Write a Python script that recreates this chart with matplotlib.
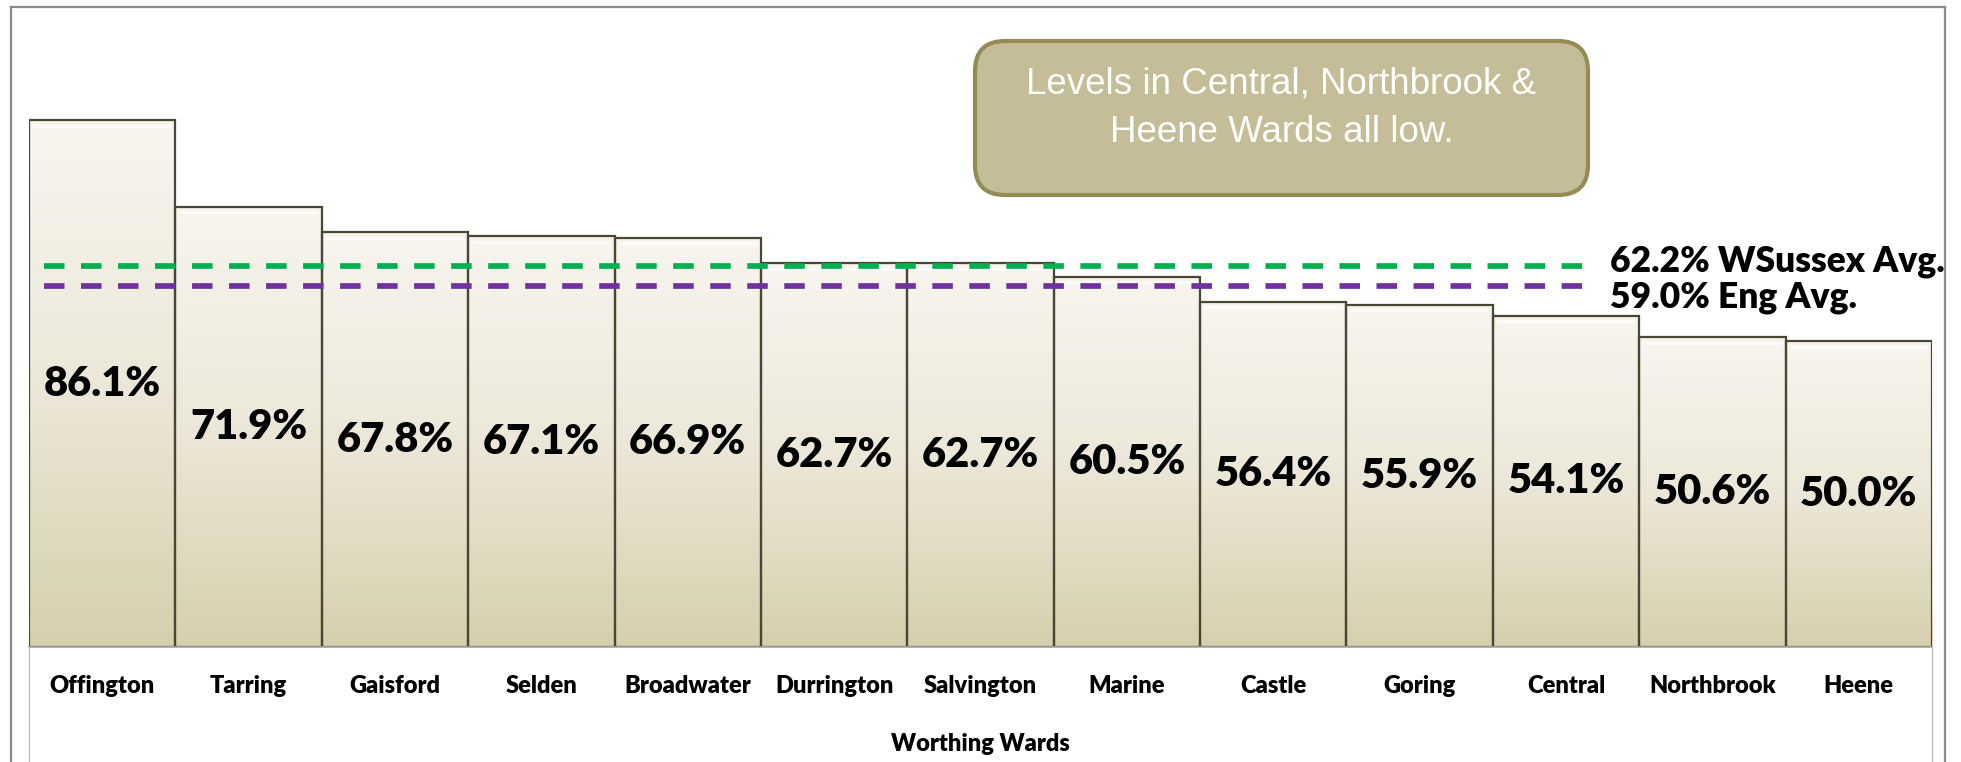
import numpy as np
import matplotlib
matplotlib.use("Agg")
import matplotlib.pyplot as plt
from matplotlib.colors import LinearSegmentedColormap
from matplotlib.patches import FancyBboxPatch
from matplotlib.lines import Line2D
from matplotlib.transforms import IdentityTransform

# Ward-level rates (%)
wards = ["Offington", "Tarring", "Gaisford", "Selden", "Broadwater", "Durrington",
         "Salvington", "Marine", "Castle", "Goring", "Central", "Northbrook", "Heene"]
rates = [86.1, 71.9, 67.8, 67.1, 66.9, 62.7, 62.7, 60.5, 56.4, 55.9, 54.1, 50.6, 50.0]

# Reference averages
wsussex_avg = 62.2
england_avg = 59.0
avg_labels = ["62.2% WSussex Avg.", "59.0% Eng Avg."]

note_text = "Levels in Central, Northbrook &\nHeene Wards all low."
x_title = "Worthing Wards"

W, H, DPI = 1961, 762, 100
fig = plt.figure(figsize=(W / DPI, H / DPI), dpi=DPI)
fig.patch.set_facecolor("white")

HEAVY = dict(family="Lato", fontweight="heavy")

# plot area in pixel terms
left_px, right_px, top_px, base_px = 29, 1932, 35, 647
ax = fig.add_axes([left_px / W, 1 - base_px / H,
                   (right_px - left_px) / W, (base_px - top_px) / H])
ax.set_facecolor("none")

x = np.arange(len(wards))
bars = ax.bar(x, rates, width=1.0, facecolor="none",
              edgecolor="#4a4634", linewidth=1.6, zorder=3)

# vertical cream-to-tan gradient inside each bar
cmap = LinearSegmentedColormap.from_list("tan", ["#d7d0ad", "#ece8d9", "#f7f5ee"])
grad = np.linspace(0, 1, 256).reshape(-1, 1)
for p in bars:
    x0, w, h = p.get_x(), p.get_width(), p.get_height()
    ax.imshow(grad, extent=(x0, x0 + w, 0, h), origin="lower", aspect="auto",
              cmap=cmap, zorder=1, interpolation="bilinear")
    # soft highlight just inside the top edge
    ax.plot([x0 + 0.03, x0 + w - 0.03], [h - 0.9, h - 0.9], color="white",
            lw=2.0, alpha=0.8, zorder=2, solid_capstyle="butt")

# value labels centred in each bar
for xi, v in zip(x, rates):
    ax.text(xi, v / 2, f"{v:.1f}%", ha="center", va="center",
            fontsize=30, color="black", zorder=5, **HEAVY)

# average reference lines
line_x = [-0.4, 10.17]
ax.plot(line_x, [wsussex_avg] * 2, color="#00b050", lw=4.1,
        dashes=(3.6, 2.9), dash_capstyle="butt", zorder=4)
ax.plot(line_x, [england_avg] * 2, color="#7030a0", lw=4.1,
        dashes=(3.6, 2.9), dash_capstyle="butt", zorder=4)
ax.annotate(avg_labels[0], xy=(10.3, wsussex_avg), xytext=(0, 3.6),
            textcoords="offset points", ha="left", va="center",
            fontsize=25.5, zorder=5, **HEAVY)
ax.annotate(avg_labels[1], xy=(10.3, england_avg), xytext=(0, -8.6),
            textcoords="offset points", ha="left", va="center",
            fontsize=25.5, zorder=5, **HEAVY)

ax.set_xlim(-0.5, len(wards) - 0.5)
ax.set_ylim(0, 100)
ax.set_yticks([])
ax.set_xticks(x)
ax.set_xticklabels(wards, fontsize=17, **HEAVY)
ax.tick_params(axis="x", length=0, pad=20)
for s in ["left", "right", "top"]:
    ax.spines[s].set_visible(False)
ax.spines["bottom"].set_color("#a6a6a6")
ax.spines["bottom"].set_linewidth(1.2)
ax.spines["bottom"].set_zorder(6)

ax.set_xlabel(x_title, fontsize=17, va="center", **HEAVY)
ax.xaxis.set_label_coords(0.5, (base_px - 744) / (base_px - top_px))

# light gray side rules beneath the category axis
for xp in (left_px, right_px):
    fig.add_artist(Line2D([xp, xp], [0, H - base_px], transform=IdentityTransform(),
                          color="#bfbfbf", lw=1.0))

# outer chart frame (open at the bottom)
frame_kw = dict(transform=IdentityTransform(), color="#8a8a8a", lw=1.6)
fig.add_artist(Line2D([11, 11], [0, H - 7], **frame_kw))
fig.add_artist(Line2D([11, 1945], [H - 7, H - 7], **frame_kw))
fig.add_artist(Line2D([1945, 1945], [0, H - 7], **frame_kw))

# callout box
bx0, bx1, by0, by1 = 975, 1588, 41, 195
box = FancyBboxPatch((bx0, H - by1), bx1 - bx0, by1 - by0,
                     boxstyle="round,pad=0,rounding_size=30",
                     transform=IdentityTransform(), facecolor="#c4bd97",
                     edgecolor="#958b55", linewidth=3.0, zorder=10)
fig.add_artist(box)
fig.text((bx0 + bx1) / 2 / W, 1 - 108 / H, note_text, ha="center", va="center",
         color="white", fontsize=26.5, family="Liberation Sans",
         linespacing=1.5, zorder=11)

fig.savefig("out.png", dpi=DPI, facecolor="white")
